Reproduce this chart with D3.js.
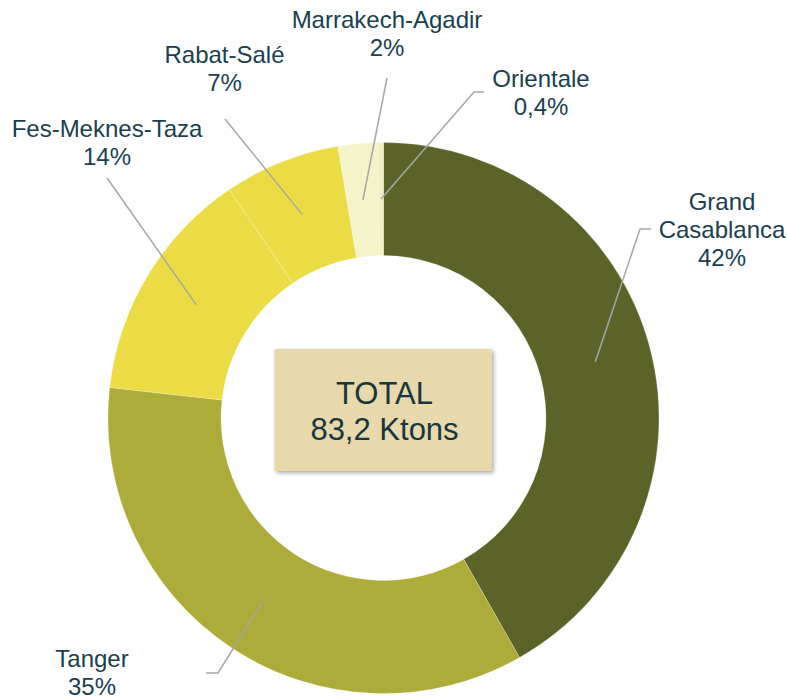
<!DOCTYPE html>
<html>
<head>
<meta charset="utf-8">
<script src="https://cdn.jsdelivr.net/npm/d3@7"></script>
<style>
  html, body { margin: 0; padding: 0; background: #fff; }
  svg { display: block; font-family: Arial, "Liberation Sans", sans-serif; }
  .lbl { fill: #1a4050; font-size: 24px; text-anchor: middle; }
  .lead { fill: none; stroke: #a6a6a6; stroke-width: 1.5; }
  .total { fill: #17363f; font-size: 31px; text-anchor: middle; }
</style>
</head>
<body>
<div id="chart"></div>
<script>
// regions, clockwise from 12 o'clock
const regions = ["Grand Casablanca", "Tanger", "Fes-Meknes-Taza", "Rabat-Salé", "Marrakech-Agadir", "Orientale"];
const shares = [41.8, 35.0, 13.8, 6.8, 2.3, 0.35];
const shareLabels = ["42%", "35%", "14%", "7%", "2%", "0,4%"];
const colors = ["#5b6329", "#adac3b", "#ebdc46", "#ebdc46", "#f4f3c9", "#f2efc0"];
const totalLines = ["TOTAL", "83,2 Ktons"];

// label placement: text lines, first baseline, leader end (elbow) and tail
const labelLines = [["Grand", "Casablanca"], ["Tanger"], ["Fes-Meknes-Taza"], ["Rabat-Salé"], ["Marrakech-Agadir"], ["Orientale"]];
const labelPos = [
  { x: 722, y: 209.5, ex: 640, ey: 229, tx: 651 },
  { x: 92, y: 667, ex: 218, ey: 673, tx: 206 },
  { x: 107, y: 136.5, ex: 107, ey: 178 },
  { x: 224.5, y: 63, ex: 225, ey: 119 },
  { x: 387, y: 28, ex: 387, ey: 78 },
  { x: 541, y: 86.5, ex: 474, ey: 92, tx: 484 }
];

const width = 787, height = 699;
const cx = 383.5, cy = 418;
const outerR = 275.5, innerR = 162.5, leadR = 219;
const lineH = 28;

const svg = d3.select("#chart").append("svg")
  .attr("width", width)
  .attr("height", height);

const defs = svg.append("defs");
const shadow = defs.append("filter")
  .attr("id", "box-shadow")
  .attr("x", "-10%").attr("y", "-10%")
  .attr("width", "130%").attr("height", "130%");
shadow.append("feDropShadow")
  .attr("dx", 2).attr("dy", 2)
  .attr("stdDeviation", 2)
  .attr("flood-color", "#000")
  .attr("flood-opacity", 0.35);

const data = regions.map((name, i) => ({ name, value: shares[i], i }));

const pie = d3.pie().sort(null).value(d => d.value);
const arcs = pie(data);
const arc = d3.arc().innerRadius(innerR).outerRadius(outerR);

const g = svg.append("g").attr("transform", `translate(${cx},${cy})`);

g.selectAll("path.slice")
  .data(arcs)
  .join("path")
  .attr("class", "slice")
  .attr("d", arc)
  .attr("fill", d => colors[d.data.i])
  .attr("stroke", "#ffffff")
  .attr("stroke-opacity", 0.35)
  .attr("stroke-width", 0.6);

// leader lines from mid-ring to label
const leadArc = d3.arc().innerRadius(leadR).outerRadius(leadR);
arcs.forEach(d => {
  const p = labelPos[d.data.i];
  const [sx, sy] = leadArc.centroid(d);
  const pts = [[sx + cx, sy + cy], [p.ex, p.ey]];
  if (p.tx !== undefined) pts.push([p.tx, p.ey]);
  svg.append("path")
    .attr("class", "lead")
    .attr("d", d3.line()(pts));
});

// labels
data.forEach(d => {
  const p = labelPos[d.i];
  const lines = labelLines[d.i].concat([shareLabels[d.i]]);
  const t = svg.append("text").attr("class", "lbl");
  lines.forEach((line, k) => {
    t.append("tspan")
      .attr("x", p.x)
      .attr("y", p.y + k * lineH)
      .text(line);
  });
});

// total box
const boxW = 217, boxH = 122;
svg.append("rect")
  .attr("x", cx - boxW / 2 - 0.5)
  .attr("y", 349)
  .attr("width", boxW)
  .attr("height", boxH)
  .attr("fill", "#e8d8ab")
  .attr("filter", "url(#box-shadow)");

const tt = svg.append("text").attr("class", "total");
totalLines.forEach((line, k) => {
  tt.append("tspan")
    .attr("x", cx + 1)
    .attr("y", 404 + k * 36)
    .text(line);
});
</script>
</body>
</html>
